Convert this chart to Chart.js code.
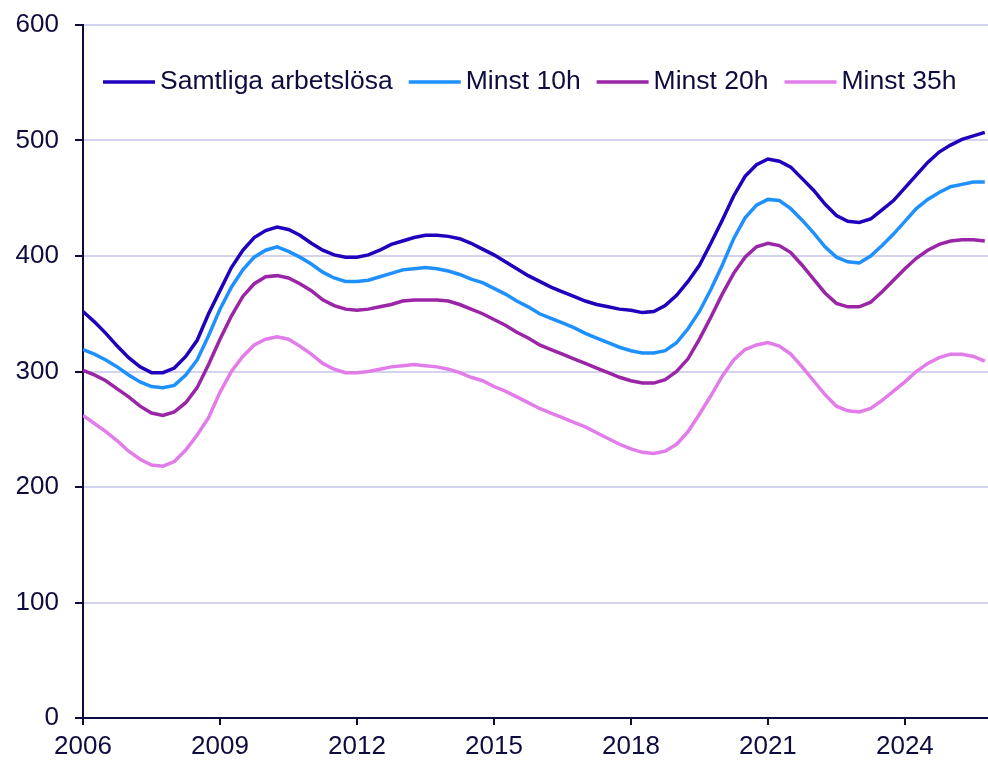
<!DOCTYPE html>
<html>
<head>
<meta charset="utf-8">
<script src="https://cdn.jsdelivr.net/npm/chart.js@4.4.1/dist/chart.umd.min.js"></script>
<style>
  body { margin: 0; background: #fff; }
  #wrap { width: 988px; height: 762px; }
</style>
</head>
<body>
<div id="wrap"><canvas id="arbetslosa" width="988" height="762"></canvas></div>
<script>
// kvartal 2006K1 - 2025K4, tusental personer
const quarters = [];
for (let y = 2006; y <= 2025; y++) {
    for (let q = 1; q <= 4; q++) quarters.push(y + 'K' + q);
}
const tickYears = [2006, 2009, 2012, 2015, 2018, 2021, 2024];
const yTicks = [0, 100, 200, 300, 400, 500, 600];

const samtliga = [
    352, 343, 333, 322, 312, 304, 299, 299, 303, 313, 327, 350,
    370, 390, 405, 416, 422, 425, 423, 418, 411, 405, 401, 399,
    399, 401, 405, 410, 413, 416, 418, 418, 417, 415, 411,
    406, 401, 395, 389, 383, 378, 373, 369, 365, 361, 358, 356, 354,
    353, 351, 352, 357, 366, 378, 392, 411, 431, 452, 469, 479,
    484, 482, 477, 467, 457, 445, 435, 430,
    429, 432, 440, 448, 459, 470, 481, 490, 496, 501, 504, 507
];
const minst10 = [
    319, 315, 310, 304, 297, 291, 287, 286, 288, 297, 310, 331,
    354, 373, 388, 399, 405, 408, 404, 399, 393, 386, 381, 378,
    378, 379, 382, 385, 388, 389, 390, 389, 387, 384, 380,
    377, 372, 367, 361, 356, 350, 346, 342, 338, 333, 329, 325, 321,
    318, 316, 316, 318, 325, 337, 352, 371, 392, 415, 433, 444,
    449, 448, 441, 431, 420, 408, 399, 395,
    394, 400, 409, 419, 430, 441, 449, 455, 460, 462, 464, 464
];
const minst20 = [
    301, 297, 292, 285, 278, 270, 264, 262, 265, 273, 286, 306,
    328, 348, 365, 376, 382, 383, 381, 376, 370, 362, 357, 354,
    353, 354, 356, 358, 361, 362, 362, 362, 361, 358, 354,
    350, 345, 340, 334, 329, 323, 319, 315, 311, 307, 303, 299, 295,
    292, 290, 290, 293, 300, 311, 328, 347, 367, 385, 399, 408,
    411, 409, 403, 392, 380, 368, 359, 356,
    356, 360, 369, 379, 389, 398, 405, 410, 413, 414, 414, 413
];
const minst35 = [
    262, 255, 248, 240, 231, 224, 219, 218, 222, 232, 245, 260,
    282, 300, 313, 323, 328, 330, 328, 322, 315, 307, 302, 299,
    299, 300, 302, 304, 305, 306, 305, 304, 302, 299, 295,
    292, 287, 283, 278, 273, 268, 264, 260, 256, 252, 247, 242, 237,
    233, 230, 229, 231, 237, 248, 263, 279, 296, 310, 319, 323,
    325, 322, 315, 304, 292, 280, 270, 266,
    265, 268, 275, 283, 291, 300, 307, 312, 315, 315, 313, 309
];

const ink = '#0e0c3e';
const gridColor = '#d3d3ee';
const fontFamily = '"Liberation Sans", Arial, sans-serif';

// kvartal -> decimalår på x-axeln
function toPoints(values) {
    return values.map((v, i) => ({ x: 2006 + i / 4, y: v }));
}

function series(label, values, color) {
    return {
        label: label,
        data: toPoints(values),
        borderColor: color,
        backgroundColor: color,
        borderWidth: 3.5,
        pointRadius: 0,
        tension: 0,
        fill: false
    };
}

// legend inne i diagramytan
const insideLegend = {
    id: 'insideLegend',
    afterDraw(chart) {
        const ctx = chart.ctx;
        const area = chart.chartArea;
        let x = area.left + 20;
        const y = 82;
        ctx.save();
        ctx.font = '26.5px ' + fontFamily;
        ctx.textBaseline = 'middle';
        chart.data.datasets.forEach(ds => {
            ctx.strokeStyle = ds.borderColor;
            ctx.lineWidth = 3.5;
            ctx.beginPath();
            ctx.moveTo(x, y);
            ctx.lineTo(x + 52, y);
            ctx.stroke();
            ctx.fillStyle = ink;
            ctx.fillText(ds.label, x + 57, y);
            x += 57 + ctx.measureText(ds.label).width + 16;
        });
        ctx.restore();
    }
};

new Chart(document.getElementById('arbetslosa'), {
    type: 'line',
    data: {
        datasets: [
            series('Samtliga arbetslösa', samtliga, '#1f00bd'),
            series('Minst 10h', minst10, '#1e90ff'),
            series('Minst 20h', minst20, '#9a25a6'),
            series('Minst 35h', minst35, '#e27ce9')
        ]
    },
    options: {
        responsive: false,
        animation: false,
        layout: { padding: { top: 25, right: 0, bottom: 0, left: 0 } },
        plugins: {
            legend: { display: false },
            tooltip: { enabled: false }
        },
        scales: {
            x: {
                type: 'linear',
                min: 2006,
                max: 2025.82,
                afterBuildTicks: scale => {
                    scale.ticks = tickYears.map(v => ({ value: v }));
                },
                afterFit: scale => { scale.height = 44; },
                ticks: {
                    color: ink,
                    font: { family: fontFamily, size: 26 },
                    padding: 6,
                    maxRotation: 0,
                    callback: v => String(v)
                },
                grid: {
                    drawOnChartArea: false,
                    tickLength: 7,
                    tickColor: ink,
                    lineWidth: 2
                },
                border: { color: ink, width: 2 }
            },
            y: {
                min: 0,
                max: 600,
                afterBuildTicks: scale => {
                    scale.ticks = yTicks.map(v => ({ value: v }));
                },
                afterFit: scale => {
                    scale.width = 83;
                    scale.paddingTop = 0;
                    scale.paddingBottom = 0;
                },
                ticks: {
                    color: ink,
                    font: { family: fontFamily, size: 26 },
                    padding: 16
                },
                grid: {
                    color: gridColor,
                    lineWidth: 2,
                    tickLength: 8,
                    tickColor: ink
                },
                border: { color: ink, width: 2 }
            }
        }
    },
    plugins: [insideLegend]
});
</script>
</body>
</html>
